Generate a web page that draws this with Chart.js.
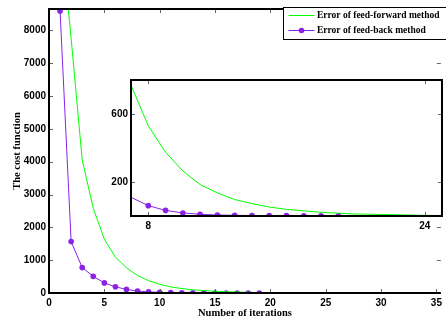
<!DOCTYPE html>
<html lang="en">
<head>
  <meta charset="UTF-8">
  <title>Cost function vs iterations</title>
  <script src="https://cdn.jsdelivr.net/npm/chart.js"></script>
  <style>
    html, body { margin: 0; padding: 0; background: #fff; }
    #wrap { position: relative; width: 446px; height: 325px; overflow: hidden; }
    #mainChart { position: absolute; left: 0; top: 0; }
    #insetChart { position: absolute; left: 100px; top: 70px; }
  </style>
</head>
<body>
<div id="wrap">
  <canvas id="mainChart" width="446" height="325"></canvas>
  <canvas id="insetChart" width="346" height="165"></canvas>
</div>

<script>
  // données
  const ffIter = [1, 2, 3, 4, 5, 6, 7, 8, 9, 10, 11, 12, 13, 14, 15, 16, 17, 18,
                  19, 20, 21, 22, 23, 24, 25, 26, 27, 28, 29, 30, 31, 32, 33, 34, 35];
  const ffError = [11200, 7760, 4050, 2580, 1640, 1090, 770, 530, 375, 265, 185, 136, 97, 73,
                   53, 39, 30, 22, 16, 12, 10, 8, 6, 4, 3, 2.5, 2, 2, 1.5, 1.5, 1, 1, 1, 1, 1];
  const fbIter = [1, 2, 3, 4, 5, 6, 7, 8, 9, 10, 11, 12, 13, 14, 15, 16, 17, 18, 19];
  const fbError = [8590, 1565, 774, 506, 307, 187, 110, 61, 33, 18, 10, 6, 4, 3, 2, 2, 1, 1, 1];

  const mainXTicks = [0, 5, 10, 15, 20, 25, 30, 35];
  const mainYTicks = [0, 1000, 2000, 3000, 4000, 5000, 6000, 7000, 8000];
  const insetXTicks = [8, 24];
  const insetYTicks = [200, 600];

  const GREEN = '#00ff00';
  const PURPLE = '#8a22e6';
  const tickFont = { family: 'Liberation Sans', weight: 'bold', size: 10 };
  const titleFont = { family: 'Liberation Serif', weight: 'bold', size: 10.5 };

  Chart.defaults.color = '#000';
  Chart.defaults.animation = false;

  const toPoints = (xs, ys) => xs.map((x, i) => ({ x: x, y: ys[i] }));
  const setTicks = list => scale => { scale.ticks = list.map(v => ({ value: v })); };
  const plain = v => String(v);

  // cadre + graduations vers l'intérieur
  const frame = {
    id: 'frame',
    beforeDraw(chart, args, opts) {
      if (!opts.fill) return;
      const a = chart.chartArea;
      chart.ctx.save();
      chart.ctx.fillStyle = '#fff';
      chart.ctx.fillRect(a.left, a.top, a.right - a.left, a.bottom - a.top);
      chart.ctx.restore();
    },
    afterDatasetsDraw(chart, args, opts) {
      const { ctx, chartArea: a, scales: { x, y } } = chart;
      const len = opts.len || 4;
      ctx.save();
      ctx.strokeStyle = '#666';
      ctx.lineWidth = 1;
      ctx.beginPath();
      x.ticks.forEach(t => {
        const px = Math.round(x.getPixelForValue(t.value)) + 0.5;
        ctx.moveTo(px, a.bottom); ctx.lineTo(px, a.bottom - len);
        ctx.moveTo(px, a.top); ctx.lineTo(px, a.top + len);
      });
      y.ticks.forEach(t => {
        const py = Math.round(y.getPixelForValue(t.value)) + 0.5;
        ctx.moveTo(a.left, py); ctx.lineTo(a.left + len, py);
        ctx.moveTo(a.right, py); ctx.lineTo(a.right - len, py);
      });
      ctx.stroke();
      ctx.strokeStyle = '#000';
      ctx.lineWidth = opts.width || 2;
      ctx.beginPath();
      ctx.moveTo(a.right, a.top); ctx.lineTo(a.left, a.top);
      ctx.lineTo(a.left, a.bottom); ctx.lineTo(a.right, a.bottom);
      if (opts.right !== false) ctx.closePath();
      ctx.stroke();
      ctx.restore();
    }
  };

  // légende encadrée en haut à droite
  const boxLegend = {
    id: 'boxLegend',
    afterDraw(chart) {
      const ctx = chart.ctx;
      const bx = 283.5, by = 7.5, bw = 170, bh = 32;
      ctx.save();
      ctx.fillStyle = '#fff';
      ctx.fillRect(bx, by, bw, bh);
      ctx.strokeStyle = '#000';
      ctx.lineWidth = 1;
      ctx.strokeRect(bx, by, bw, bh);
      ctx.font = 'bold 9.5px "Liberation Serif"';
      ctx.textBaseline = 'middle';
      chart.data.datasets.forEach((ds, i) => {
        const ry = by + 8 + i * 15;
        ctx.strokeStyle = ds.borderColor;
        ctx.lineWidth = 1;
        ctx.beginPath();
        ctx.moveTo(bx + 5, ry); ctx.lineTo(bx + 31, ry);
        ctx.stroke();
        if (ds.pointRadius) {
          ctx.fillStyle = ds.backgroundColor;
          ctx.beginPath();
          ctx.arc(bx + 18, ry, 2.8, 0, Math.PI * 2);
          ctx.fill();
        }
        ctx.fillStyle = '#000';
        ctx.fillText(ds.label, bx + 33.5, ry + 0.5);
      });
      ctx.restore();
    }
  };

  new Chart(document.getElementById('mainChart'), {
    type: 'line',
    data: {
      datasets: [
        {
          label: 'Error of feed-forward method',
          data: toPoints(ffIter, ffError),
          borderColor: GREEN, backgroundColor: GREEN,
          borderWidth: 1, pointRadius: 0, tension: 0
        },
        {
          label: 'Error of feed-back method',
          data: toPoints(fbIter, fbError),
          borderColor: PURPLE, backgroundColor: PURPLE,
          borderWidth: 1, pointRadius: 2.8, pointBorderWidth: 0, tension: 0
        }
      ]
    },
    options: {
      responsive: false,
      devicePixelRatio: 1,
      layout: { padding: { top: 3, right: 0, left: 0, bottom: 0 } },
      plugins: {
        legend: { display: false },
        tooltip: { enabled: false },
        frame: { len: 4, width: 2, right: false }
      },
      scales: {
        x: {
          type: 'linear', min: 0, max: 35.4,
          afterBuildTicks: setTicks(mainXTicks),
          afterFit: s => { s.height = 32; },
          grid: { display: false, drawTicks: false },
          border: { display: false },
          ticks: { font: tickFont, padding: 4, maxRotation: 0, callback: plain },
          title: { display: true, text: 'Number of iterations', font: titleFont, padding: { top: 0, bottom: 5 } }
        },
        y: {
          min: 0, max: 8650,
          afterBuildTicks: setTicks(mainYTicks),
          afterFit: s => { s.width = 49; },
          grid: { display: false, drawTicks: false },
          border: { display: false },
          ticks: { font: tickFont, padding: 3, callback: plain },
          title: { display: true, text: 'The cost function', font: titleFont, padding: { top: 11, bottom: 0 } }
        }
      }
    },
    plugins: [frame, boxLegend]
  });

  // zoom entre les itérations 7 et 25
  new Chart(document.getElementById('insetChart'), {
    type: 'line',
    data: {
      datasets: [
        {
          label: 'Error of feed-forward method',
          data: toPoints(ffIter, ffError),
          borderColor: GREEN, borderWidth: 1, pointRadius: 0, tension: 0
        },
        {
          label: 'Error of feed-back method',
          data: toPoints(fbIter, fbError),
          borderColor: PURPLE, backgroundColor: PURPLE, borderWidth: 1,
          pointRadius: ctx => (ctx.parsed && ctx.parsed.x < 7.5 ? 0 : 2.8),
          pointBorderWidth: 0, tension: 0
        }
      ]
    },
    options: {
      responsive: false,
      devicePixelRatio: 1,
      layout: { padding: { top: 10, right: 3, left: 0, bottom: 0 } },
      plugins: {
        legend: { display: false },
        tooltip: { enabled: false },
        frame: { len: 4, width: 2, fill: true }
      },
      scales: {
        x: {
          type: 'linear', min: 7, max: 25,
          afterBuildTicks: setTicks(insetXTicks),
          afterFit: s => { s.height = 19; },
          grid: { display: false, drawTicks: false },
          border: { display: false },
          ticks: { font: tickFont, padding: 4, maxRotation: 0, callback: plain }
        },
        y: {
          min: 0, max: 800,
          afterBuildTicks: setTicks(insetYTicks),
          afterFit: s => { s.width = 31; },
          grid: { display: false, drawTicks: false },
          border: { display: false },
          ticks: { font: tickFont, padding: 3, callback: plain }
        }
      }
    },
    plugins: [frame]
  });
</script>
</body>
</html>
